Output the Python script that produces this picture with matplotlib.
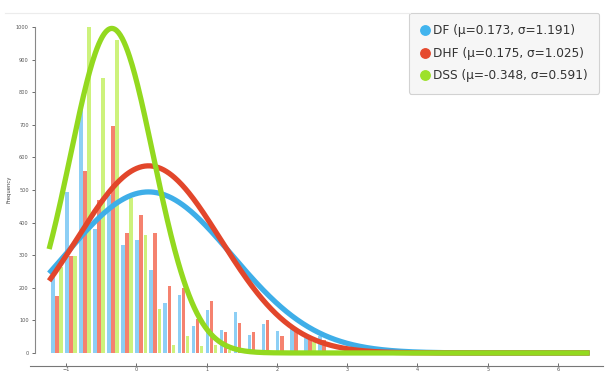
import numpy as np
import matplotlib.pyplot as plt
from matplotlib.lines import Line2D

# histogram bins (width 0.2)
bin_start = -1.13
bin_width = 0.2

df_counts = [260, 493, 746, 380, 486, 330, 347, 253, 153, 179, 82, 131, 71, 125, 56, 89, 66, 72, 46, 51]
dhf_counts = [176, 296, 559, 468, 695, 368, 424, 368, 204, 200, 104, 158, 63, 92, 63, 100, 53, 75, 46, 41]
dss_counts = [265, 296, 1000, 843, 960, 475, 363, 135, 25, 51, 22, 25, 10, 5, 3, 2, 2, 4, 35, 3]

# fitted normal parameters (from the legend)
names = ['DF', 'DHF', 'DSS']
mus = [0.173, 0.175, -0.348]
sigmas = [1.191, 1.025, 0.591]
curve_area = 1475  # scale of fitted curves
curve_range = (-1.24, 6.45)

bar_colors = ['#8dcff5', '#f5826f', '#cdf27c']
line_colors = ['#3eaee8', '#e2462b', '#93d91f']
marker_colors = ['#41b4ee', '#e54a2f', '#9de12b']

fig = plt.figure(figsize=(6.05, 3.72), dpi=100)
ax = fig.add_axes([30 / 605, 6 / 372, 573 / 605, 353 / 372])

n = len(df_counts)
centers = bin_start + bin_width * np.arange(n)
bw = 0.05
for k, (counts, col) in enumerate(zip([df_counts, dhf_counts, dss_counts], bar_colors)):
    ax.bar(centers + (k - 1) * 0.058, counts, width=bw, color=col, zorder=1)

xs = np.linspace(curve_range[0], curve_range[1], 600)
for mu, sd, col in zip(mus, sigmas, line_colors):
    ys = curve_area / (sd * np.sqrt(2 * np.pi)) * np.exp(-0.5 * ((xs - mu) / sd) ** 2)
    ax.plot(xs, ys, color=col, lw=3.8, solid_capstyle='butt', zorder=3)

ax.set_xlim(-1.512, 6.64)
ax.set_ylim(-40, 1043)

ax.set_yticks(np.arange(0, 1001, 100))
ax.set_xticks(np.arange(-1, 7, 1))
ax.tick_params(axis='y', labelsize=3.6, length=2.5, width=0.6, colors='#555555', pad=2)
ax.tick_params(axis='x', labelsize=3.6, length=2, width=0.6, direction='in', colors='#555555', pad=0.8)
ax.set_ylabel('Frequency', fontsize=3.8, color='#444444', labelpad=3)

for s in ['top', 'right']:
    ax.spines[s].set_visible(False)
ax.spines['left'].set_bounds(0, 1000)
ax.spines['left'].set_position(('axes', 5 / 573))
ax.spines['left'].set_color('#888888')
ax.spines['left'].set_linewidth(0.8)
ax.spines['bottom'].set_color('#777777')
ax.spines['bottom'].set_linewidth(0.8)

# faint top border line
fig.add_artist(Line2D([5 / 605, 410 / 605], [1 - 13 / 372, 1 - 13 / 372],
                      color='#ececec', lw=0.8))

handles = [Line2D([], [], marker='o', ls='', markersize=6.8, color=c)
           for c in marker_colors]
labels = ['%s (\u03bc=%.3f, \u03c3=%.3f)' % (nm, mu, sd) for nm, mu, sd in zip(names, mus, sigmas)]
leg = ax.legend(handles, labels, loc='upper right', bbox_to_anchor=(599 / 605, 1 - 13 / 372),
                bbox_transform=fig.transFigure, fontsize=8.7, frameon=True,
                handletextpad=0.25, handlelength=0.8, labelspacing=0.78,
                borderpad=0.95, borderaxespad=0, framealpha=1)
leg.get_frame().set_facecolor('#f6f6f6')
leg.get_frame().set_edgecolor('#d2d2d2')
leg.get_frame().set_linewidth(0.8)
for t in leg.get_texts():
    t.set_color('#333333')

fig.savefig('out.png', dpi=100)
